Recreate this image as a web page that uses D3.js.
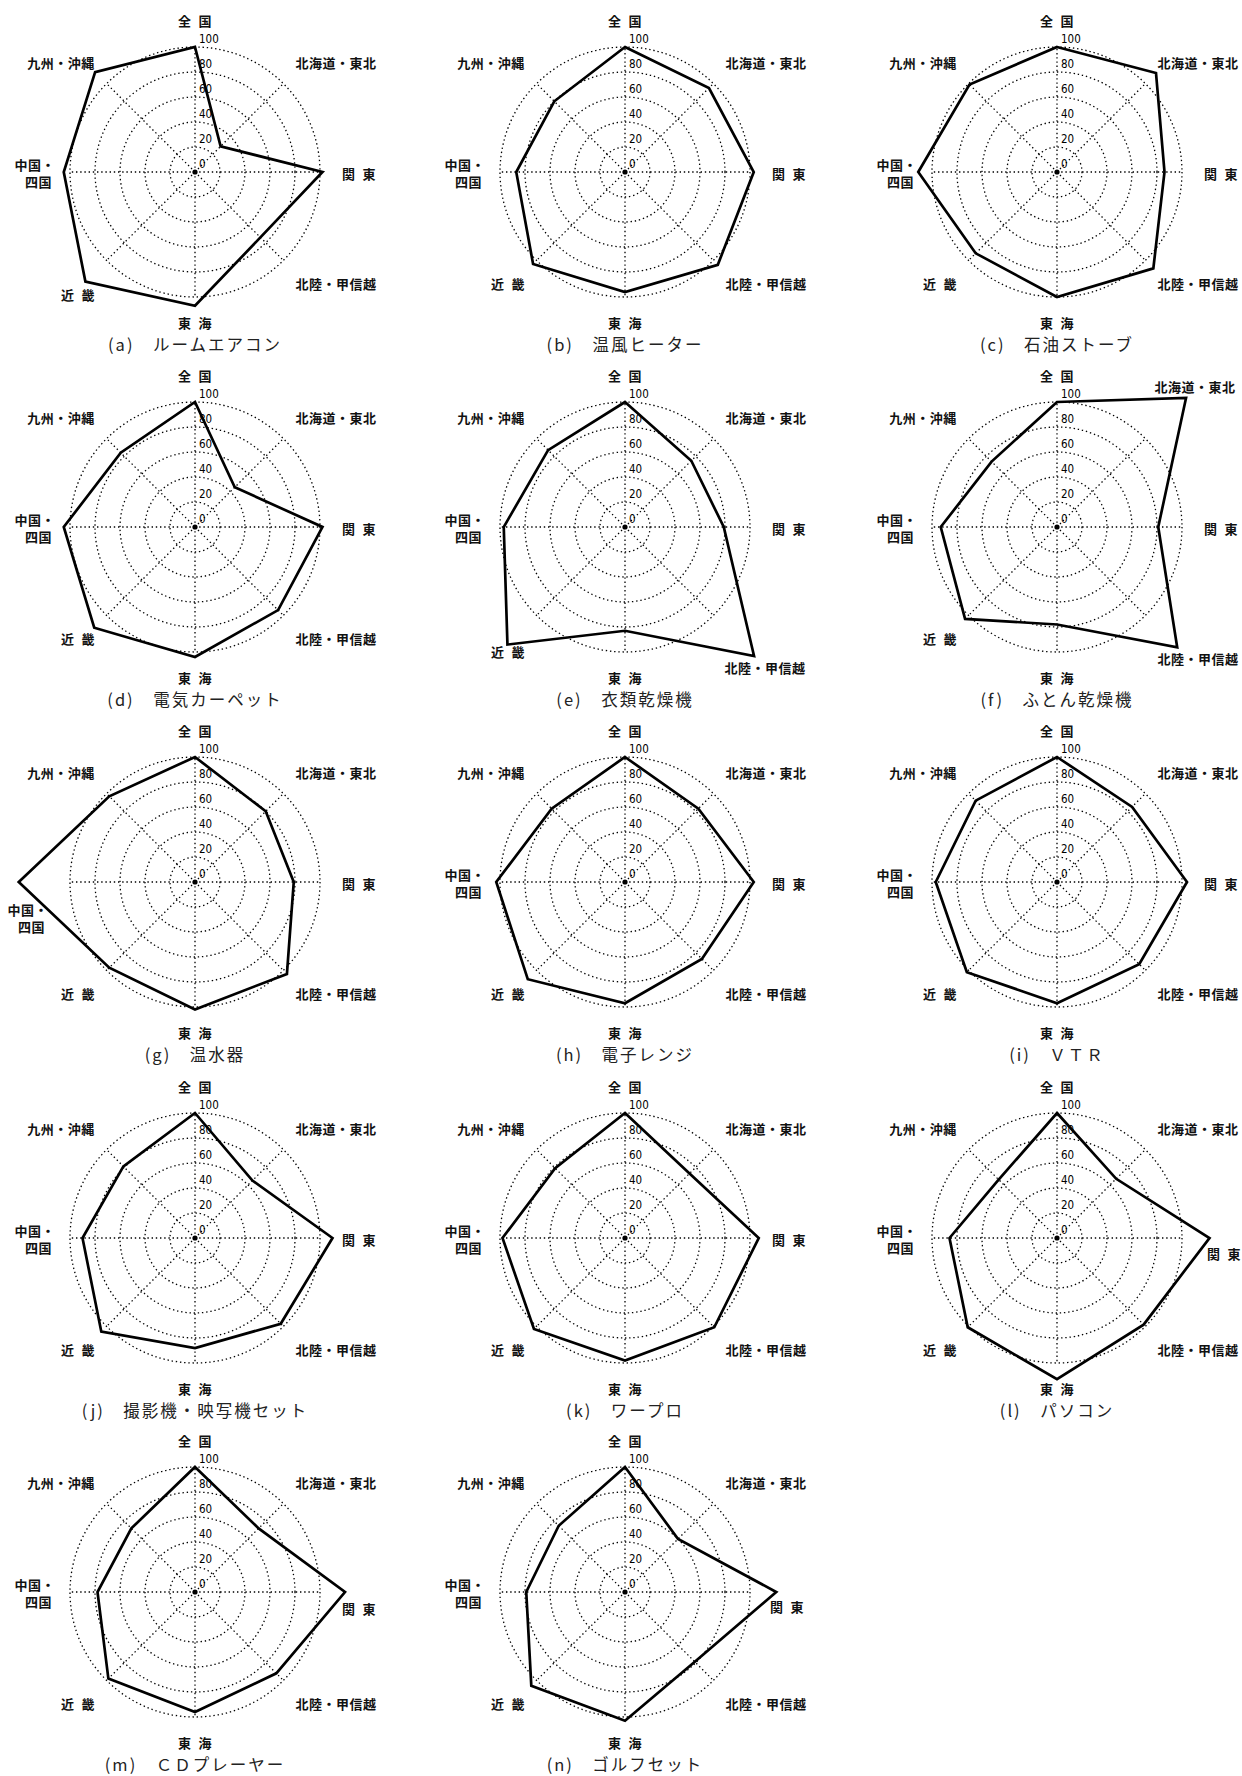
<!DOCTYPE html>
<html><head><meta charset="utf-8">
<script src="https://cdn.jsdelivr.net/npm/d3@7"></script>
<style>
body{margin:0;background:#fff}
svg{display:block}
.lab{font-family:"Noto Sans CJK JP","Noto Sans",sans-serif;font-weight:700;font-size:13px;fill:#111;letter-spacing:0.5px}
.tick{font-family:"Liberation Sans Narrow","DejaVu Sans Condensed","Liberation Sans",sans-serif;font-size:11.5px;fill:#000}
.cap{font-family:"Noto Sans CJK JP","Noto Sans",sans-serif;font-weight:400;font-size:16.5px;fill:#222;letter-spacing:2px}
</style>
</head><body>
<svg id="c" width="1242" height="1776"></svg>
<script>
// ---- data ----
const regions = ["全国","北海道・東北","関東","北陸・甲信越","東海","近畿","中国・四国","九州・沖縄"];
const regionLabels = ["全\u2002国","北海道・東北","関\u2002東","北陸・甲信越","東\u2002海","近\u2002畿","中国・|四国","九州・沖縄"];
const ticks = [0,20,40,60,80,100];
const chartLetters = ["a","b","c","d","e","f","g","h","i","j","k","l","m","n"];
const chartTitles = ["ルームエアコン","温風ヒーター","石油ストーブ","電気カーペット","衣類乾燥機","ふとん乾燥機","温水器","電子レンジ","ＶＴＲ","撮影機・映写機セット","ワープロ","パソコン","ＣＤプレーヤー","ゴルフセット"];

const roomAircon   = [100, 29, 102, 74, 107, 124, 105, 113];
const warmHeater   = [100, 95, 103, 105, 96, 104, 87, 80];
const oilStove     = [100, 112, 86, 109, 100, 92, 111, 99];
const elecCarpet   = [100, 45, 102, 94, 104, 114, 105, 84];
const clothDryer   = [100, 75, 79, 146, 83, 133, 97, 87];
const futonDryer   = [100, 146, 81, 136, 78, 104, 93, 74];
const waterHeater  = [100, 80, 79, 104, 102, 97, 141, 97];
const microwave    = [100, 83, 103, 87, 97, 110, 103, 83];
const vtr          = [100, 85, 104, 93, 97, 102, 97, 92];
const cameraSet    = [100, 65, 110, 97, 88, 106, 90, 81];
const wordPro      = [100, 73, 107, 101, 98, 103, 98, 79];
const pc           = [100, 67, 122, 98, 113, 101, 86, 66];
const cdPlayer     = [100, 72, 120, 92, 96, 98, 78, 72];
const golfSet      = [100, 60, 121, 79, 103, 106, 79, 75];

const seriesValues = [roomAircon, warmHeater, oilStove, elecCarpet, clothDryer, futonDryer,
  waterHeater, microwave, vtr, cameraSet, wordPro, pc, cdPlayer, golfSet];

// ---- layout ----
const colX = [195, 625, 1057];
const rowY = [172, 527, 882, 1238, 1592];
const R = 125;
const defaultOffsets = [[0,-152],[141,-110],[164,1],[141,111],[0,150],[-117,111],[-143,-8],[-134,-110]];
const overrides = {
  a:{5:[-117,122]},
  e:{5:[-117,124],3:[140,140]},
  f:{1:[138,-141],3:[141,131]},
  g:{6:[-150,27]},
  l:{2:[167,15]},
  m:{2:[164,16]},
  n:{2:[162,14]}
};

const svg = d3.select("#c");
const r = d3.scaleLinear().domain([0,100]).range([0,R]);
const ang = d3.scaleLinear().domain([0, regions.length]).range([0, 2*Math.PI]);
const line = d3.lineRadial()
  .angle((d,i)=>ang(i))
  .radius(d=>r(d))
  .curve(d3.curveLinearClosed);

seriesValues.forEach((vals, k) => {
  const cx = colX[k%3], cy = rowY[Math.floor(k/3)];
  const letter = chartLetters[k];
  const g = svg.append("g").attr("transform",`translate(${cx},${cy})`);

  // rings
  g.selectAll("circle.ring").data(ticks.filter(t=>t>0)).join("circle")
    .attr("r", d=>r(d)).attr("fill","none").attr("stroke","#000")
    .attr("stroke-width",1.3).attr("stroke-dasharray","1.4,2.8");
  // axes
  g.selectAll("line.axis").data(regions).join("line")
    .attr("x1",0).attr("y1",0)
    .attr("x2",(d,i)=>Math.sin(ang(i))*r(100))
    .attr("y2",(d,i)=>-Math.cos(ang(i))*r(100))
    .attr("stroke","#000").attr("stroke-width",1.3).attr("stroke-dasharray","1.4,2.8");
  // tick labels
  g.selectAll("text.tick").data(ticks).join("text").attr("class","tick")
    .attr("x",4).attr("y",d=>-r(d)-4).text(d=>d);
  // center dot
  g.append("circle").attr("r",2.6).attr("fill","#000");
  // polygon
  g.append("path").datum(vals).attr("d",line)
    .attr("fill","none").attr("stroke","#000").attr("stroke-width",2.7)
    .attr("stroke-linejoin","miter");

  // region labels
  regionLabels.forEach((lab,i)=>{
    const o = (overrides[letter] && overrides[letter][i]) || defaultOffsets[i];
    if (lab.includes("|")) {
      const parts = lab.split("|");
      parts.forEach((p,j)=>{
        g.append("text").attr("class","lab").attr("text-anchor","end")
          .attr("dominant-baseline","central")
          .attr("x",o[0]+(j===0?3:0)).attr("y",o[1]+j*17).text(p);
      });
    } else {
      g.append("text").attr("class","lab").attr("text-anchor","middle")
        .attr("dominant-baseline","central")
        .attr("x",o[0]).attr("y",o[1]).text(lab);
    }
  });
  // caption
  g.append("text").attr("class","cap").attr("text-anchor","middle")
    .attr("dominant-baseline","central").attr("x",0).attr("y",172)
    .text(`(${letter})　${chartTitles[k]}`);
});
</script>
</body></html>
